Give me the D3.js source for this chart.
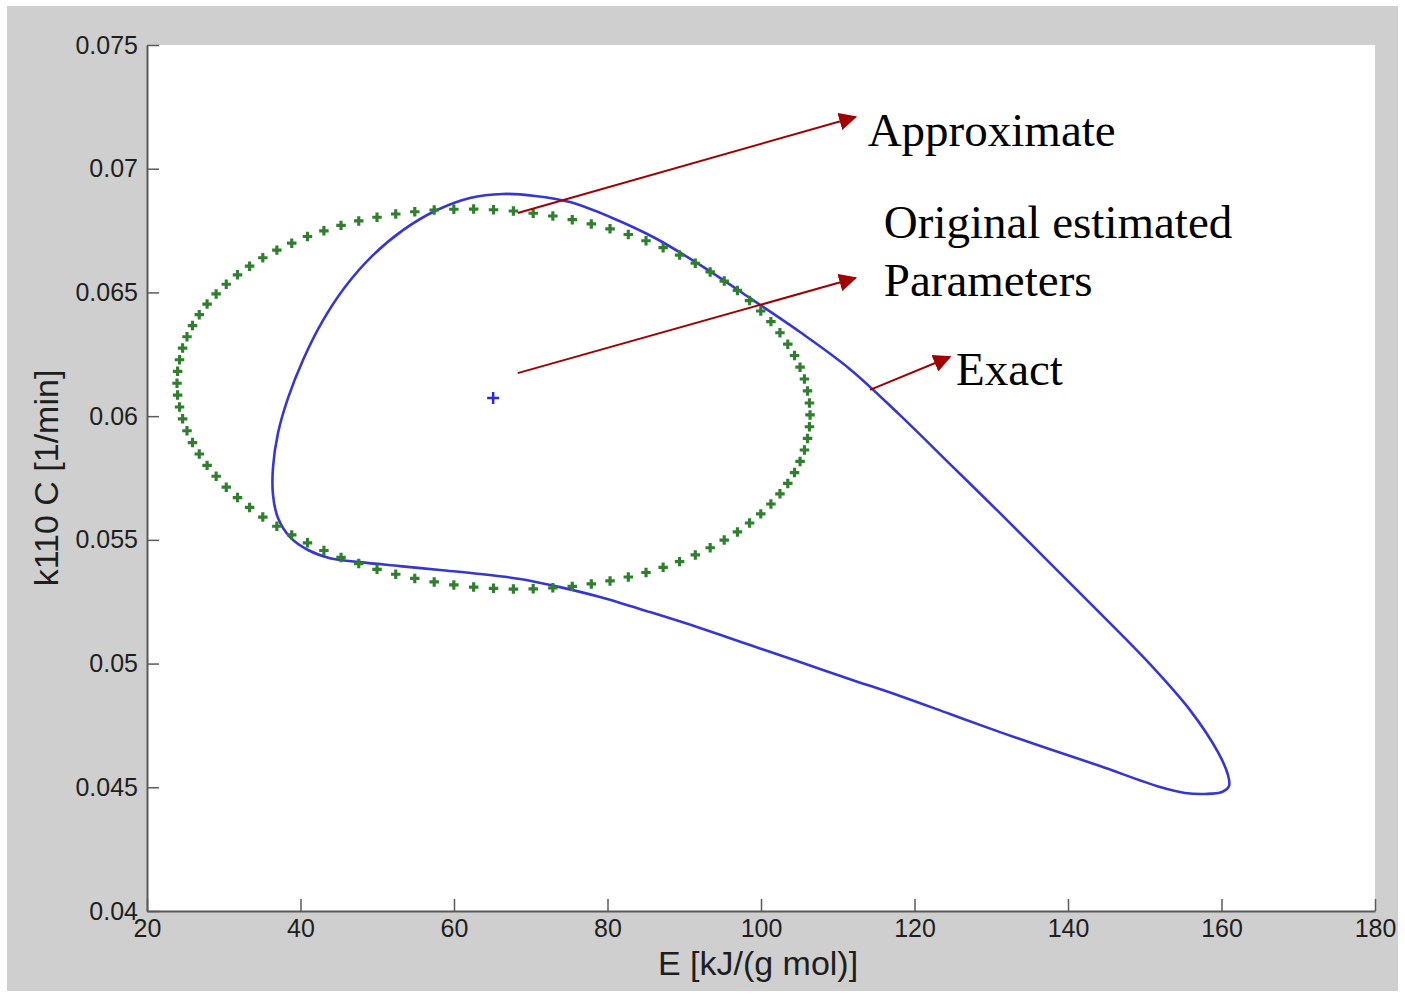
<!DOCTYPE html>
<html>
<head>
<meta charset="utf-8">
<script src="https://cdnjs.cloudflare.com/ajax/libs/d3/7.8.5/d3.min.js"></script>
<style>
  body { margin: 0; background: #ffffff; }
  svg { display: block; }
</style>
</head>
<body>
<svg width="1405" height="994"></svg>
<script>
// Approximate region (green + markers)
const approxE = [
  106.39, 106.31, 106.06, 105.66, 105.09, 104.37, 103.49, 102.47, 101.29, 99.97,
  98.51, 96.93, 95.21, 93.38, 91.44, 89.39, 87.25, 85.02, 82.71, 80.33,
  77.89, 75.41, 72.88, 70.32, 67.74, 65.15, 62.56, 59.98, 57.42, 54.89,
  52.41, 49.97, 47.59, 45.28, 43.05, 40.91, 38.86, 36.92, 35.09, 33.37,
  31.79, 30.33, 29.01, 27.83, 26.81, 25.93, 25.21, 24.64, 24.24, 23.99,
  23.91, 23.99, 24.24, 24.64, 25.21, 25.93, 26.81, 27.83, 29.01, 30.33,
  31.79, 33.37, 35.09, 36.92, 38.86, 40.91, 43.05, 45.28, 47.59, 49.97,
  52.41, 54.89, 57.42, 59.98, 62.56, 65.15, 67.74, 70.32, 72.88, 75.41,
  77.89, 80.33, 82.71, 85.02, 87.25, 89.39, 91.44, 93.38, 95.21, 96.93,
  98.51, 99.97, 101.29, 102.47, 103.49, 104.37, 105.09, 105.66, 106.06, 106.31
];
const approxK = [
  0.06005, 0.06053, 0.06102, 0.06150, 0.06198, 0.06245, 0.06291, 0.06337, 0.06382, 0.06425,
  0.06467, 0.06508, 0.06546, 0.06583, 0.06618, 0.06651, 0.06681, 0.06709, 0.06734, 0.06757,
  0.06777, 0.06794, 0.06809, 0.06820, 0.06829, 0.06834, 0.06837, 0.06836, 0.06833, 0.06826,
  0.06817, 0.06804, 0.06789, 0.06771, 0.06749, 0.06726, 0.06699, 0.06671, 0.06640, 0.06606,
  0.06571, 0.06533, 0.06494, 0.06453, 0.06410, 0.06366, 0.06321, 0.06275, 0.06228, 0.06181,
  0.06133, 0.06085, 0.06037, 0.05989, 0.05941, 0.05893, 0.05847, 0.05801, 0.05757, 0.05713,
  0.05671, 0.05631, 0.05592, 0.05555, 0.05520, 0.05488, 0.05457, 0.05429, 0.05404, 0.05381,
  0.05361, 0.05344, 0.05330, 0.05318, 0.05309, 0.05304, 0.05301, 0.05302, 0.05306, 0.05312,
  0.05322, 0.05334, 0.05350, 0.05368, 0.05389, 0.05412, 0.05439, 0.05468, 0.05499, 0.05532,
  0.05568, 0.05605, 0.05645, 0.05686, 0.05728, 0.05772, 0.05817, 0.05863, 0.05910, 0.05957
];

// Exact region (blue closed curve), clockwise from the top
const exactE = [
  66.38, 70.55, 75.11, 80.33, 86.19, 92.05, 98.57, 105.08, 111.60, 118.11,
  124.63, 131.14, 137.65, 144.17, 150.68, 155.90, 159.54, 160.85, 160.98,
  160.07, 157.85, 155.24, 151.99, 144.17, 137.65, 131.14, 124.63, 118.11, 111.60,
  105.08, 98.57, 92.05, 85.54, 79.02, 73.81, 68.60, 63.39, 58.18, 52.96,
  47.75, 43.84, 40.98, 38.63, 37.07, 36.42, 36.42, 37.07, 38.37, 40.33,
  42.80, 45.80, 49.32, 53.36, 57.79, 62.08
];
const exactK = [
  0.06898, 0.06890, 0.06865, 0.06805, 0.06720, 0.06611, 0.06477, 0.06340, 0.06190, 0.06004,
  0.05806, 0.05608, 0.05406, 0.05204, 0.04998, 0.04812, 0.04642, 0.04549, 0.04505,
  0.04481, 0.04473, 0.04477, 0.04501, 0.04586, 0.04654, 0.04723, 0.04796, 0.04869, 0.04937,
  0.05006, 0.05075, 0.05144, 0.05208, 0.05269, 0.05309, 0.05342, 0.05362, 0.05378, 0.05394,
  0.05410, 0.05426, 0.05459, 0.05511, 0.05588, 0.05681, 0.05794, 0.05932, 0.06073, 0.06227,
  0.06380, 0.06522, 0.06647, 0.06752, 0.06833, 0.06882
];

// original estimated parameters
const estimate = { E: 65.1, k: 0.06073 };

const xTicks = [20, 40, 60, 80, 100, 120, 140, 160, 180];
const yTicks = [0.04, 0.045, 0.05, 0.055, 0.06, 0.065, 0.07, 0.075];
const yTickLabels = ["0.04", "0.045", "0.05", "0.055", "0.06", "0.065", "0.07", "0.075"];

// annotations: arrow from (E0,k0) to (E1,k1), text lines at (E,k)
const arrows = [
  { E0: 68.3, k0: 0.06821, E1: 112.3, k1: 0.07209 },
  { E0: 68.3, k0: 0.06174, E1: 112.3, k1: 0.06558 },
  { E0: 114.2, k0: 0.06106, E1: 124.6, k1: 0.06239 }
];
const notes = [
  { text: "Approximate", E: 113.9, k: 0.07092 },
  { text: "Original estimated", E: 116.0, k: 0.06720 },
  { text: "Parameters", E: 116.0, k: 0.06485 },
  { text: "Exact", E: 125.4, k: 0.06126 }
];

const svg = d3.select("svg");

// figure background
svg.append("rect")
  .attr("x", 7).attr("y", 6)
  .attr("width", 1391).attr("height", 985)
  .attr("fill", "#cfcfcf");

const margin = { left: 147, top: 45, right: 30, bottom: 83 };
const width = 1405 - margin.left - margin.right;
const height = 994 - margin.top - margin.bottom;

const x = d3.scaleLinear().domain([20, 180]).range([0, width]);
const y = d3.scaleLinear().domain([0.04, 0.075]).range([height, 0]);

const g = svg.append("g").attr("transform", `translate(${margin.left},${margin.top})`);

g.append("rect")
  .attr("width", width).attr("height", height)
  .attr("fill", "#ffffff");

// axes (ticks pointing inward, like matlab)
const xAxis = g.append("g")
  .attr("transform", `translate(0,${height})`)
  .call(d3.axisBottom(x).tickValues(xTicks).tickSizeInner(-12).tickSizeOuter(0).tickPadding(8));

const yAxis = g.append("g")
  .call(d3.axisLeft(y).tickValues(yTicks).tickFormat((d, i) => yTickLabels[i])
    .tickSizeInner(-12).tickSizeOuter(0).tickPadding(9));

[xAxis, yAxis].forEach((ax) => {
  ax.select(".domain").attr("stroke", "#5a5a5a").attr("stroke-width", 2);
  ax.selectAll(".tick line").attr("stroke", "#5a5a5a").attr("stroke-width", 1.5);
  ax.selectAll(".tick text")
    .attr("fill", "#1e1e1e")
    .attr("font-family", "Liberation Sans, Arial, sans-serif")
    .attr("font-size", "25px");
});

svg.append("text")
  .attr("x", 758).attr("y", 975)
  .attr("text-anchor", "middle")
  .attr("fill", "#1e1e1e")
  .attr("font-family", "Liberation Sans, Arial, sans-serif")
  .attr("font-size", "34px")
  .text("E [kJ/(g mol)]");

svg.append("text")
  .attr("transform", "translate(58,478) rotate(-90)")
  .attr("text-anchor", "middle")
  .attr("fill", "#1e1e1e")
  .attr("font-family", "Liberation Sans, Arial, sans-serif")
  .attr("font-size", "34px")
  .text("k110 C [1/min]");

// exact region
const exactPts = exactE.map((e, i) => [e, exactK[i]]);
g.append("path")
  .datum(exactPts)
  .attr("d", d3.line()
    .x((d) => x(d[0]))
    .y((d) => y(d[1]))
    .curve(d3.curveCatmullRomClosed.alpha(0.5)))
  .attr("fill", "none")
  .attr("stroke", "#3636d2")
  .attr("stroke-width", 2.6);

// approximate region markers
const approxPts = approxE.map((e, i) => [e, approxK[i]]);
const cross = d3.symbol().type(d3.symbolCross).size(50);
g.selectAll(".approx")
  .data(approxPts)
  .enter()
  .append("path")
  .attr("class", "approx")
  .attr("d", cross)
  .attr("transform", (d) => `translate(${x(d[0])},${y(d[1])})`)
  .attr("fill", "#2f7f2f");

// estimate marker
g.append("path")
  .attr("d", "M-6,0H6M0,-6V6")
  .attr("transform", `translate(${x(estimate.E)},${y(estimate.k)})`)
  .attr("stroke", "#2a2ae0")
  .attr("stroke-width", 2.5);

// annotation arrows
svg.append("defs").append("marker")
  .attr("id", "head")
  .attr("viewBox", "0 0 10 10")
  .attr("refX", 9).attr("refY", 5)
  .attr("markerWidth", 9).attr("markerHeight", 9)
  .attr("markerUnits", "strokeWidth")
  .attr("orient", "auto")
  .append("path")
  .attr("d", "M0,0L10,5L0,10z")
  .attr("fill", "#a00000");

g.selectAll(".arrow")
  .data(arrows)
  .enter()
  .append("line")
  .attr("class", "arrow")
  .attr("x1", (d) => x(d.E0)).attr("y1", (d) => y(d.k0))
  .attr("x2", (d) => x(d.E1)).attr("y2", (d) => y(d.k1))
  .attr("stroke", "#a00000")
  .attr("stroke-width", 2)
  .attr("marker-end", "url(#head)");

g.selectAll(".note")
  .data(notes)
  .enter()
  .append("text")
  .attr("class", "note")
  .attr("x", (d) => x(d.E))
  .attr("y", (d) => y(d.k))
  .attr("font-family", "Liberation Serif, Times New Roman, serif")
  .attr("font-size", "47px")
  .attr("fill", "#000")
  .text((d) => d.text);
</script>
</body>
</html>
